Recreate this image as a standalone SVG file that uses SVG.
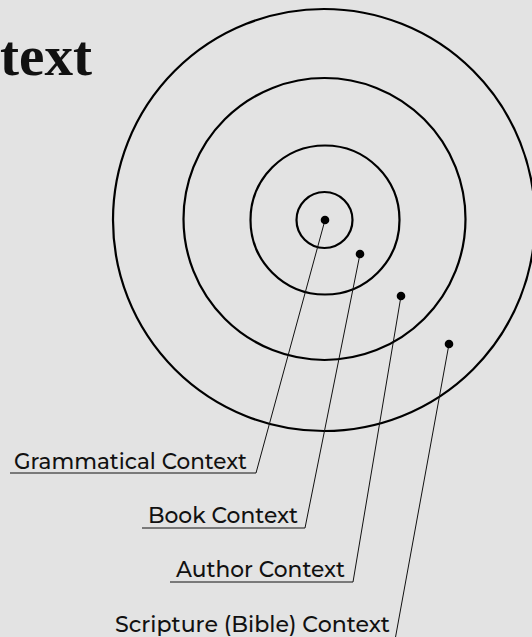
<svg xmlns="http://www.w3.org/2000/svg" width="532" height="637" viewBox="0 0 532 637">
<style>
.ring{fill:none;stroke:#000;stroke-width:2.2}
.dot{fill:#000}
.lead{fill:none;stroke:#111;stroke-width:1}
.lab{font-family:"Montserrat","Open Sans","Liberation Sans",sans-serif;font-size:22.5px;font-weight:500;fill:#111}
.title{font-family:"Liberation Serif",serif;font-weight:bold;font-size:58px;fill:#111}
</style>
<rect width="532" height="637" fill="#e3e3e3"/>
<text class="title" x="0" y="75" textLength="92" lengthAdjust="spacingAndGlyphs">text</text>
<g id="rings">
<circle class="ring" cx="324" cy="220" r="211"/>
<circle class="ring" cx="324.5" cy="219" r="141"/>
<circle class="ring" cx="325" cy="220" r="74.5"/>
<circle class="ring" cx="324.5" cy="220" r="28"/>
</g>
<g id="connectors">
<polyline class="lead" points="325,220 256,473 10,473"/>
<polyline class="lead" points="360,254 305,528 142,528"/>
<polyline class="lead" points="401,296 353,582 170,582"/>
<polyline class="lead" points="449,344 395,640"/>
</g>
<g id="grammatical">
<circle class="dot" cx="325" cy="220" r="4.3"/>
<text class="lab" x="14" y="469" textLength="233" lengthAdjust="spacingAndGlyphs">Grammatical Context</text>
</g>
<g id="book">
<circle class="dot" cx="360" cy="254" r="4.3"/>
<text class="lab" x="148" y="523" textLength="150" lengthAdjust="spacingAndGlyphs">Book Context</text>
</g>
<g id="author">
<circle class="dot" cx="401" cy="296" r="4.3"/>
<text class="lab" x="176" y="577" textLength="169" lengthAdjust="spacingAndGlyphs">Author Context</text>
</g>
<g id="scripture">
<circle class="dot" cx="449" cy="344" r="4.3"/>
<text class="lab" x="115" y="632" textLength="275" lengthAdjust="spacingAndGlyphs">Scripture (Bible) Context</text>
</g>
</svg>
